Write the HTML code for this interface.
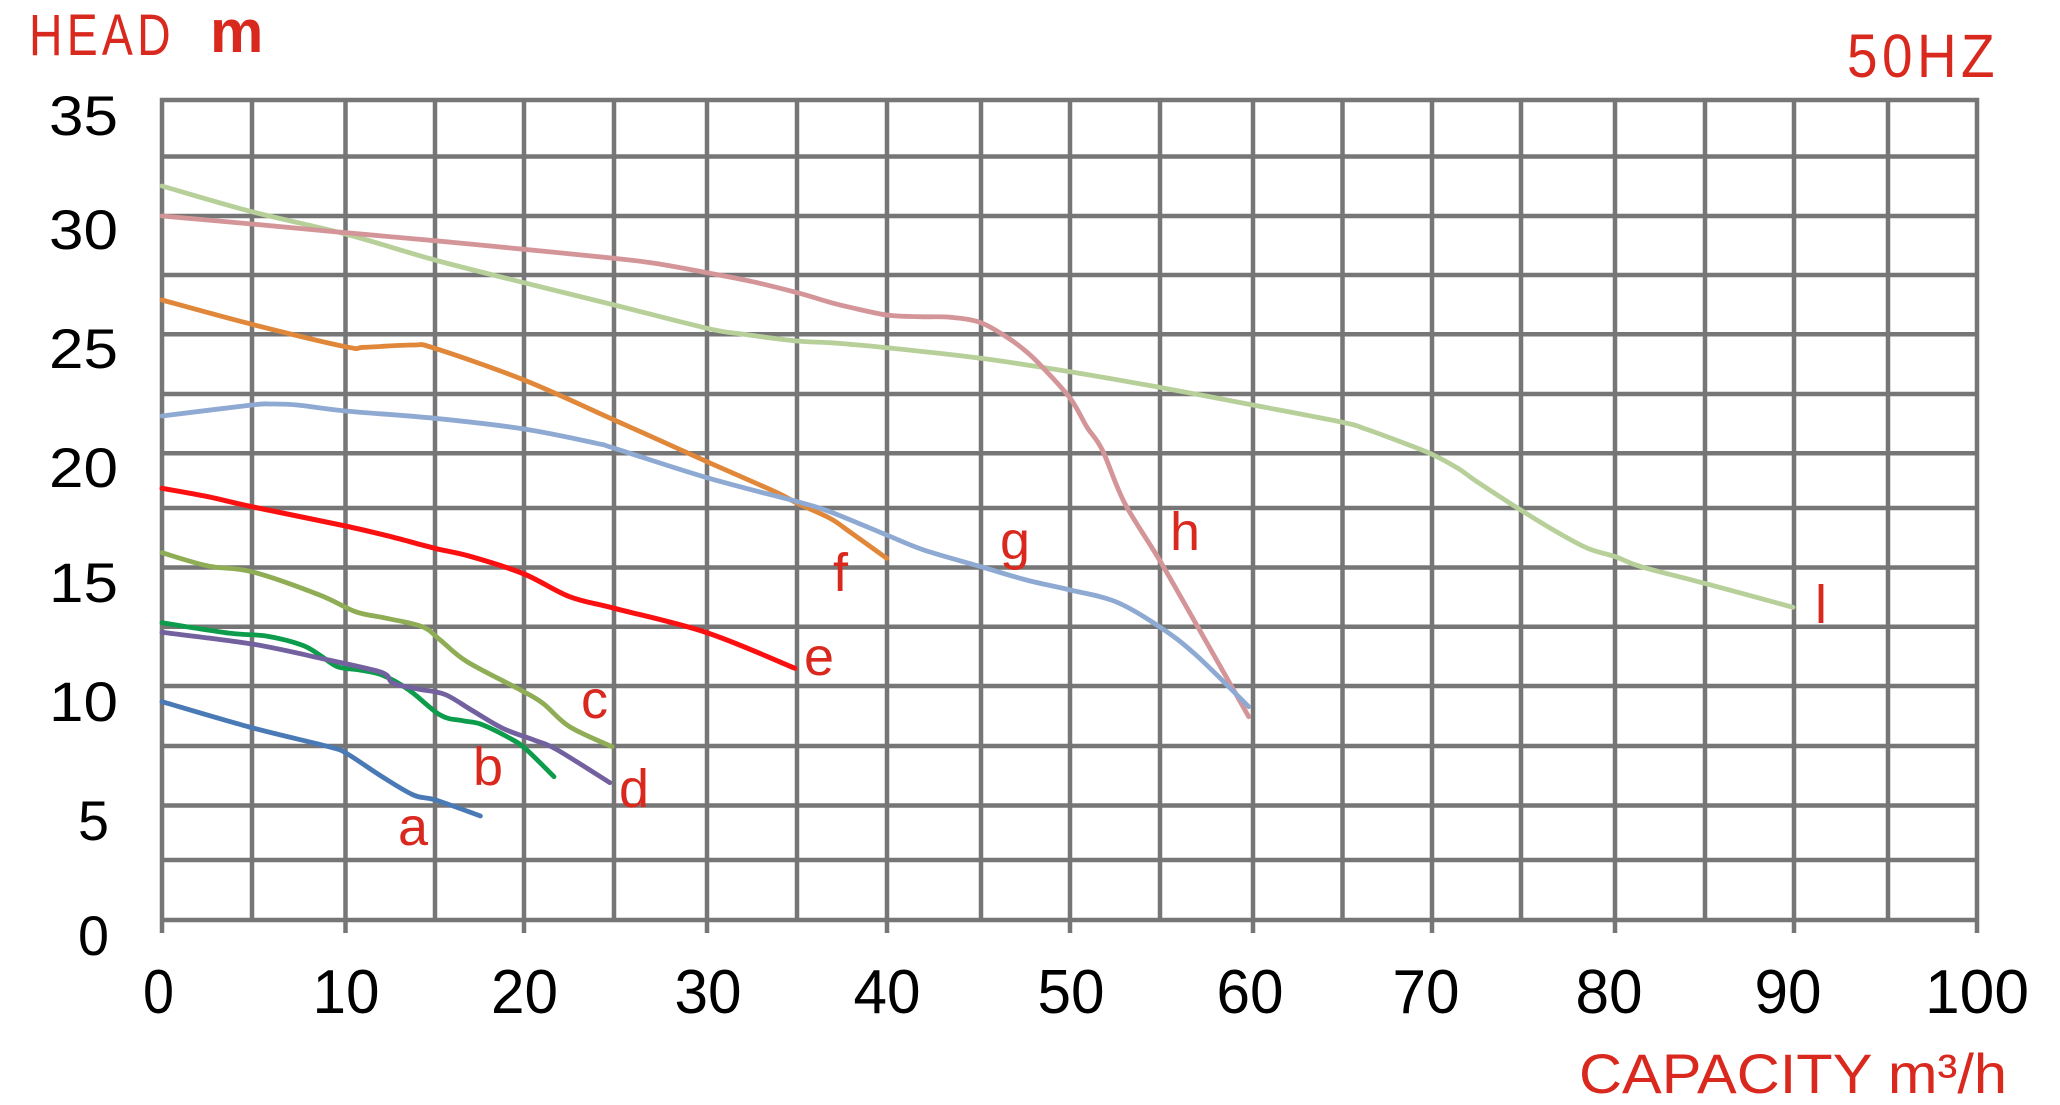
<!DOCTYPE html>
<html>
<head>
<meta charset="utf-8">
<style>
  html, body { margin: 0; padding: 0; background: #ffffff; }
  svg { display: block; }
  text { font-family: "Liberation Sans", sans-serif; }
</style>
</head>
<body>
<svg id="chart" width="2060" height="1105" viewBox="0 0 2060 1105" xmlns="http://www.w3.org/2000/svg">
  <rect x="0" y="0" width="2060" height="1105" fill="#ffffff"/>

  <!-- grid -->
  <g stroke="#767676" stroke-width="4.5" fill="none">
    <line x1="160" y1="100" x2="1979" y2="100"/>
    <line x1="160" y1="156.5" x2="1979" y2="156.5"/>
    <line x1="160" y1="216" x2="1979" y2="216"/>
    <line x1="160" y1="275" x2="1979" y2="275"/>
    <line x1="160" y1="334.3" x2="1979" y2="334.3"/>
    <line x1="160" y1="394" x2="1979" y2="394"/>
    <line x1="160" y1="453.3" x2="1979" y2="453.3"/>
    <line x1="160" y1="508" x2="1979" y2="508"/>
    <line x1="160" y1="567.5" x2="1979" y2="567.5"/>
    <line x1="160" y1="626.7" x2="1979" y2="626.7"/>
    <line x1="160" y1="686" x2="1979" y2="686"/>
    <line x1="160" y1="746" x2="1979" y2="746"/>
    <line x1="160" y1="805.5" x2="1979" y2="805.5"/>
    <line x1="160" y1="860" x2="1979" y2="860"/>
    <line x1="160" y1="920" x2="1979" y2="920"/>
    <line x1="162" y1="98" x2="162" y2="933"/>
    <line x1="252" y1="98" x2="252" y2="920"/>
    <line x1="345.5" y1="98" x2="345.5" y2="933"/>
    <line x1="435" y1="98" x2="435" y2="920"/>
    <line x1="524" y1="98" x2="524" y2="933"/>
    <line x1="614" y1="98" x2="614" y2="920"/>
    <line x1="707" y1="98" x2="707" y2="933"/>
    <line x1="797" y1="98" x2="797" y2="920"/>
    <line x1="887" y1="98" x2="887" y2="933"/>
    <line x1="981" y1="98" x2="981" y2="920"/>
    <line x1="1070" y1="98" x2="1070" y2="933"/>
    <line x1="1160" y1="98" x2="1160" y2="920"/>
    <line x1="1253" y1="98" x2="1253" y2="933"/>
    <line x1="1342.5" y1="98" x2="1342.5" y2="920"/>
    <line x1="1432" y1="98" x2="1432" y2="933"/>
    <line x1="1521" y1="98" x2="1521" y2="920"/>
    <line x1="1615" y1="98" x2="1615" y2="933"/>
    <line x1="1705" y1="98" x2="1705" y2="920"/>
    <line x1="1794" y1="98" x2="1794" y2="933"/>
    <line x1="1888" y1="98" x2="1888" y2="920"/>
    <line x1="1977" y1="98" x2="1977" y2="933"/>
  </g>

  <!-- curves -->
  <g id="curves" fill="none" stroke-linejoin="round" stroke-linecap="round" stroke-width="4.8">
    <polyline stroke="#b7d09a" points="162,186 251.8,211.7 345.5,234 434.8,260 524,282.7 614.3,305 707,328.3 743.8,334.3 797.3,341 830,342.7 850,344.3 886.7,347.7 980.9,358.3 1070,371.7 1159.5,387.3 1252.8,405 1342.5,422.3 1365.7,429 1409,445 1431.4,454 1458,468.3 1477,481.7 1520.7,510 1556.4,531.7 1587.7,548.3 1615.4,556.7 1641,566.7 1704.6,583.3 1793,607.3"/>
    <polyline stroke="#d49599" points="162,216 251.8,224 345.5,232.7 434.8,240.7 524,249.3 614.3,258.3 654.5,263.3 707,272.7 752.7,281.7 797.3,292.7 830,302.3 850,307.3 886.7,315 919.3,316.7 950.5,317.3 980.9,322.7 1008.6,338.3 1026.4,351.7 1042,366.7 1070.2,398.3 1086.7,426.7 1102.3,450 1124.6,503 1159.5,560 1200.5,631.7 1248.7,716.7"/>
    <polyline stroke="#e0873a" points="162,300 251.8,324.3 345.5,346.7 364.3,347.3 413.4,345 434.8,348.3 524,380 614.3,420 707,461.7 775,491.7 797.3,503.3 830,518.3 850,532 886.7,558.3"/>
    <polyline stroke="#8eaad3" points="162,416 251.8,405 270.5,404 297.3,405 345.5,411 434.8,418.3 524,429 596.4,443.3 614.3,448.3 707,477.7 797.3,501.7 830,511.7 886.7,535 923.8,550 980.9,566.7 1026.4,580 1070.2,590 1115.7,601.7 1159.5,626.7 1196,655 1248.7,706.7"/>
    <polyline stroke="#fa1010" stroke-width="5" points="162,488.3 208,496.7 251.8,506.7 345.5,526 391,536.7 434.8,548.3 471.4,556.7 524.1,574 569.6,596.7 614.3,608.3 707,632.7 795,668.3"/>
    <polyline stroke="#8fad55" points="162,552.7 208,566 251.8,571.7 319.6,595 355.4,611.7 386.6,618.3 422.3,626.7 440.2,640 467,661.7 520.5,690 542.9,703.3 569.6,726.7 612,746.7"/>
    <polyline stroke="#0d9c4b" points="162,622.7 230.4,633.3 266,636 301.8,645 319.6,655 337.5,666.7 359.8,670 382.1,675 409,690 440.2,715 462.5,720.7 480.4,724 507.1,736.7 525,748.3 554,776.7"/>
    <polyline stroke="#72609f" points="162,632.3 251.8,644 328.6,660 373.2,670 386.6,675 393.3,683.3 417.9,689 444.6,694.3 471.4,710 502.7,728.3 533.9,740 556.3,749.3 609.8,782.7"/>
    <polyline stroke="#4a7ab6" points="162,701.7 251.8,727.7 328.6,746.7 346.4,753.3 382.1,776.7 413.4,795 435.7,800 480.4,816"/>
  </g>

  <!-- curve labels -->
  <g fill="#d9291f" font-size="54">
    <text x="398" y="845">a</text>
    <text x="473" y="785">b</text>
    <text x="581" y="718">c</text>
    <text x="619" y="807">d</text>
    <text x="804" y="675">e</text>
    <text x="833" y="591">f</text>
    <text x="1000" y="559">g</text>
    <text x="1170" y="550">h</text>
    <text x="1815" y="623">l</text>
  </g>

  <!-- y tick labels -->
  <g fill="#000000" font-size="56">
    <text x="49" y="135" textLength="69" lengthAdjust="spacingAndGlyphs">35</text>
    <text x="49" y="249" textLength="69" lengthAdjust="spacingAndGlyphs">30</text>
    <text x="49" y="368" textLength="69" lengthAdjust="spacingAndGlyphs">25</text>
    <text x="49" y="487" textLength="69" lengthAdjust="spacingAndGlyphs">20</text>
    <text x="49" y="602" textLength="69" lengthAdjust="spacingAndGlyphs">15</text>
    <text x="49" y="721" textLength="69" lengthAdjust="spacingAndGlyphs">10</text>
    <text x="78" y="840" textLength="31" lengthAdjust="spacingAndGlyphs">5</text>
    <text x="78" y="955" textLength="31" lengthAdjust="spacingAndGlyphs">0</text>
  </g>

  <!-- x tick labels -->
  <g fill="#000000" font-size="62">
    <text x="143" y="1013" textLength="31" lengthAdjust="spacingAndGlyphs">0</text>
    <text x="312.5" y="1013" textLength="67" lengthAdjust="spacingAndGlyphs">10</text>
    <text x="491" y="1013" textLength="67" lengthAdjust="spacingAndGlyphs">20</text>
    <text x="674.5" y="1013" textLength="67" lengthAdjust="spacingAndGlyphs">30</text>
    <text x="853.5" y="1013" textLength="67" lengthAdjust="spacingAndGlyphs">40</text>
    <text x="1037.5" y="1013" textLength="67" lengthAdjust="spacingAndGlyphs">50</text>
    <text x="1216.5" y="1013" textLength="67" lengthAdjust="spacingAndGlyphs">60</text>
    <text x="1392.5" y="1013" textLength="67" lengthAdjust="spacingAndGlyphs">70</text>
    <text x="1575.5" y="1013" textLength="67" lengthAdjust="spacingAndGlyphs">80</text>
    <text x="1754.5" y="1013" textLength="67" lengthAdjust="spacingAndGlyphs">90</text>
    <text x="1925" y="1013" textLength="104" lengthAdjust="spacingAndGlyphs">100</text>
  </g>

  <!-- axis titles -->
  <g fill="#d9291f">
    <text transform="translate(29,55) scale(0.8,1)" x="0" y="0" font-size="58" textLength="177" lengthAdjust="spacing">HEAD</text>
    <text x="210" y="52" font-size="60" font-weight="bold">m</text>
    <text transform="translate(1847,77) scale(0.9,1)" x="0" y="0" font-size="61" textLength="164" lengthAdjust="spacing">50HZ</text>
    <text x="1579" y="1093" font-size="56" textLength="428" lengthAdjust="spacingAndGlyphs">CAPACITY m³/h</text>
  </g>
</svg>
<script>
(function(){
  try {
    var ns = "http://www.w3.org/2000/svg";
    var polys = document.querySelectorAll("#curves polyline");
    for (var i = 0; i < polys.length; i++) {
      var pl = polys[i];
      var raw = pl.getAttribute("points").trim().split(/\s+/);
      var pts = raw.map(function(s){ var a = s.split(","); return [parseFloat(a[0]), parseFloat(a[1])]; });
      if (pts.length < 3) continue;
      var d = "M" + pts[0][0] + "," + pts[0][1];
      var t = 0.5 / 3;
      for (var k = 0; k < pts.length - 1; k++) {
        var p0 = pts[k === 0 ? 0 : k - 1], p1 = pts[k], p2 = pts[k + 1], p3 = pts[k + 2 < pts.length ? k + 2 : k + 1];
        var c1x = p1[0] + (p2[0] - p0[0]) * t, c1y = p1[1] + (p2[1] - p0[1]) * t;
        var c2x = p2[0] - (p3[0] - p1[0]) * t, c2y = p2[1] - (p3[1] - p1[1]) * t;
        d += " C" + c1x.toFixed(1) + "," + c1y.toFixed(1) + " " + c2x.toFixed(1) + "," + c2y.toFixed(1) + " " + p2[0] + "," + p2[1];
      }
      var path = document.createElementNS(ns, "path");
      path.setAttribute("d", d);
      path.setAttribute("stroke", pl.getAttribute("stroke"));
      if (pl.getAttribute("stroke-width")) path.setAttribute("stroke-width", pl.getAttribute("stroke-width"));
      pl.parentNode.replaceChild(path, pl);
    }
  } catch (e) {}
})();
</script>
</body>
</html>
